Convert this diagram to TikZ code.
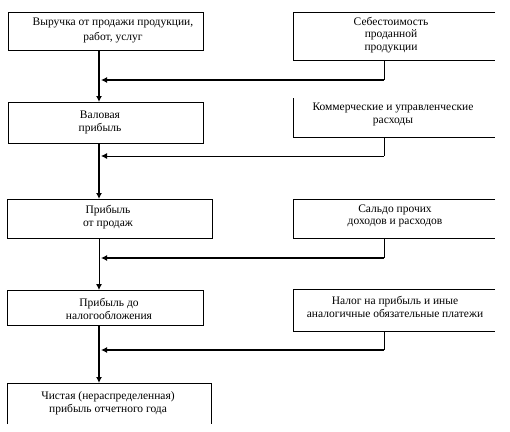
\documentclass[tikz,border=0pt]{standalone}
\usepackage{fontspec}
\setmainfont{Liberation Serif}
\usetikzlibrary{arrows.meta}
\begin{document}
\begin{tikzpicture}[x=1pt,y=-1pt,
  box/.style={draw,line width=0.8pt,inner sep=0pt,outer sep=0pt},
  openbox/.style={inner sep=0pt,outer sep=0pt},
  side/.style={line width=0.8pt},
  txt/.style={align=center,font=\fontsize{11.5}{12.8}\selectfont,inner sep=0pt},
  thk/.style={line width=2pt},
  thn/.style={line width=0.9pt},
  arr/.style={-{Latex[length=6pt,width=6pt]}}]
\useasboundingbox (0,0) rectangle (510,431);
% left boxes
\node[box,minimum width=195pt,minimum height=38pt] (b1) at (105.5,31) {};
\node[box,minimum width=195pt,minimum height=41pt] (b2) at (105.5,122.5) {};
\node[box,minimum width=205pt,minimum height=39pt] (b3) at (109.5,218.5) {};
\node[box,minimum width=196pt,minimum height=35pt] (b4) at (105,307.5) {};
\node[openbox,minimum width=204pt,minimum height=41pt] (b5) at (109,403.5) {};
\draw[side] (b5.south west) -- (b5.north west) -- (b5.north east) -- (b5.south east);
% right boxes (open on the right)
\node[openbox,minimum width=202pt,minimum height=48pt] (r1) at (394,36) {};
\node[openbox,minimum width=202pt,minimum height=39pt] (r2) at (394,117.5) {};
\node[openbox,minimum width=202pt,minimum height=39pt] (r3) at (394,218.5) {};
\node[openbox,minimum width=202pt,minimum height=42pt] (r4) at (394,310) {};
\draw[side] (r1.north east) -- (r1.north west) -- (r1.south west) -- (r1.south east);
\draw[side] (r2.north west) -- (r2.south west) -- (r2.south east);
\draw[side] (r3.north east) -- (r3.north west) -- (r3.south west) -- (r3.south east);
\draw[side] (r4.north east) -- (r4.north west) -- (r4.south west) -- (r4.south east);
% texts
\node[txt,font=\fontsize{11.5}{15}\selectfont] (t1) at (113,30.5) {Выручка от продажи продукции,\\работ, услуг};
\node[txt] (t2) at (100,122.5) {Валовая\\прибыль};
\node[txt] (t3) at (108,217) {Прибыль\\от продаж};
\node[txt] (t4) at (109,309) {Прибыль до\\налогообложения};
\node[txt] (t5) at (108,403) {Чистая (нераспределенная)\\прибыль отчетного года};
\node[txt] (s1) at (391,35) {Себестоимость\\проданной\\продукции};
\node[txt] (s2) at (393,114.5) {Коммерческие и управленческие\\расходы};
\node[txt] (s3) at (395,216) {Сальдо прочих\\доходов и расходов};
\node[txt] (s4) at (395,307) {Налог на прибыль и иные\\аналогичные обязательные платежи};
% spine and joins
\coordinate (sp) at (99,0);
\coordinate (xr) at (384,0);
\coordinate (j1) at (101,80);
\coordinate (j2) at (101,156);
\coordinate (j3) at (101,258);
\coordinate (j4) at (101,350);
% vertical arrows
\draw[thk,arr] (b1.south -| sp) -- (b2.north -| sp);
\draw[thk,arr] (b2.south -| sp) -- (b3.north -| sp);
\draw[thn,arr] (b3.south -| sp) -- (b4.north -| sp);
\draw[thk,arr] (b4.south -| sp) -- (b5.north -| sp);
% side inputs
\draw[thn] (r1.south -| xr) -- (xr |- j1);
\draw[thk,arr] (xr |- j1) -- (j1);
\draw[thn] (r2.south -| xr) -- (xr |- j2);
\draw[thn,arr] (xr |- j2) -- (j2);
\draw[thn] (r3.south -| xr) -- (xr |- j3);
\draw[thk,arr] (xr |- j3) -- (j3);
\draw[thn] (r4.south -| xr) -- (xr |- j4);
\draw[thk,arr] (xr |- j4) -- (j4);
\end{tikzpicture}
\end{document}
